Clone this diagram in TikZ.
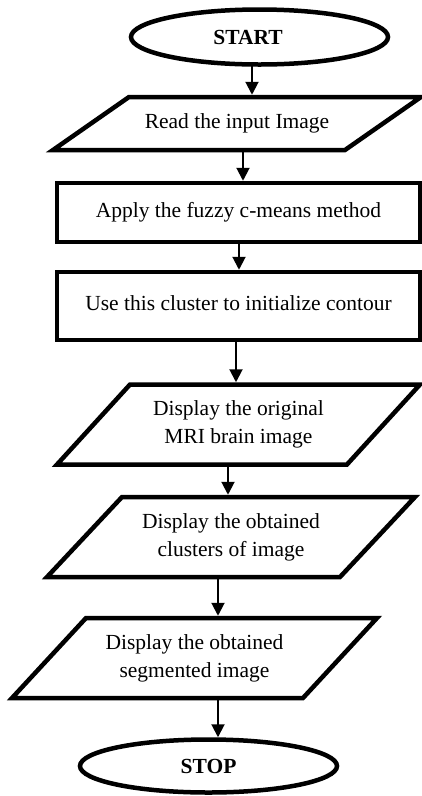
\documentclass[tikz,border=0pt]{standalone}
\usepackage{fontspec}
\setmainfont{Liberation Serif}
\usetikzlibrary{shapes.geometric,arrows.meta}

% parallelogram outline around an input/output node: #1 node name, #2 slant offset
\newcommand\ioframe[2]{%
  \draw[ioline] ([xshift=#2]#1.north west) -- (#1.north east)
    -- ([xshift=-#2]#1.south east) -- (#1.south west) -- cycle;}

\begin{document}
\begin{tikzpicture}[x=1pt,y=-1pt,
  txt/.style={font=\fontsize{21.5pt}{28pt}\selectfont, align=center},
  terminal/.style={ellipse, draw, line width=4.5pt, inner sep=0pt, outer sep=0pt,
    minimum width=257pt, minimum height=55pt, align=center,
    font=\fontsize{21.5pt}{28pt}\selectfont\bfseries},
  process/.style={rectangle, draw, line width=4.5pt, inner sep=0pt, outer sep=0pt,
    minimum width=363pt, txt},
  io/.style={rectangle, inner sep=0pt, outer sep=0pt, txt},
  ioline/.style={line width=4.5pt, line join=miter},
  arr/.style={line width=2pt, -{Triangle[length=13pt,width=13pt]}, shorten >=2.25pt}
]
\useasboundingbox (0,0) rectangle (422,796);

% nodes
\node[terminal] (start) at (259.5,37) {START\kern23pt};
\node[io, minimum width=368pt, minimum height=53pt] (read) at (237,123.5) {Read the input Image};
\node[process, minimum height=59pt] (fcm) at (238.5,212.5) {Apply the fuzzy c-means method};
\node[process, minimum height=68pt] (init) at (238.5,306) {\raisebox{5pt}{Use this cluster to initialize contour}};
\node[io, minimum width=363pt, minimum height=80pt] (orig) at (238.5,424.5) {Display the original\\MRI brain image};
\node[io, minimum width=368pt, minimum height=80pt] (clus) at (231,537) {Display the obtained\\clusters of image};
\node[io, minimum width=365pt, minimum height=80pt] (seg) at (194.5,658) {Display the obtained\\segmented image};
\node[terminal, minimum height=53pt] (stop) at (208.5,766) {STOP};

% input/output outlines
\ioframe{read}{76pt}
\ioframe{orig}{73pt}
\ioframe{clus}{75pt}
\ioframe{seg}{74pt}

% flow arrows
\draw[arr] (start.south -| 252,0) -- (read.north -| 252,0);
\draw[arr] (read.south -| 243,0) -- (fcm.north -| 243,0);
\draw[arr] (fcm.south -| 239,0) -- (init.north -| 239,0);
\draw[arr] (init.south -| 236,0) -- (orig.north -| 236,0);
\draw[arr] (orig.south -| 228,0) -- (clus.north -| 228,0);
\draw[arr] (clus.south -| 218,0) -- (seg.north -| 218,0);
\draw[arr] (seg.south -| 218,0) -- (stop.north -| 218,0);
\end{tikzpicture}
\end{document}
